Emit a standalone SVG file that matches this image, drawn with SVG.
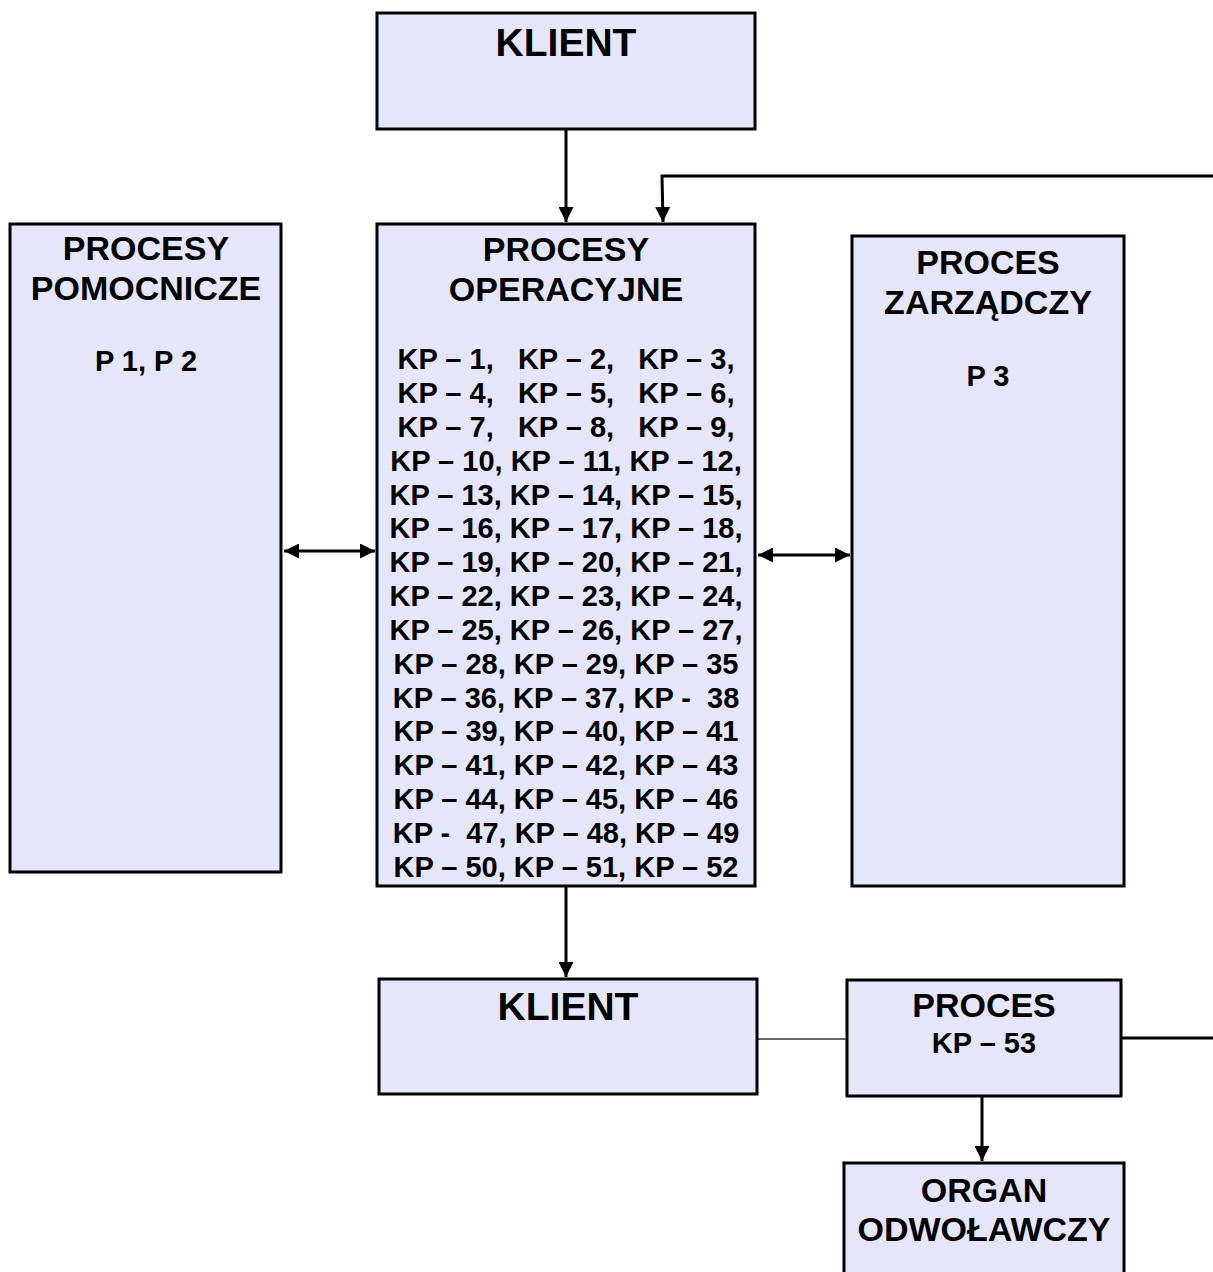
<svg xmlns="http://www.w3.org/2000/svg" width="1213" height="1272" viewBox="0 0 1213 1272">
<style>
.box{fill:#e6e6fa;stroke:#000;stroke-width:3}
.t{font-family:"Liberation Sans",Arial,sans-serif;font-weight:bold;fill:#000;text-anchor:middle}
.big{font-size:39px}
.h{font-size:34px}
.s{font-size:29px}
.kp{font-size:29px}
.c{stroke:#000;stroke-width:3;fill:none}
</style>
<defs>
<marker id="ah" viewBox="0 0 10 10" refX="10" refY="5" markerWidth="5" markerHeight="5" orient="auto-start-reverse" markerUnits="strokeWidth">
<path d="M0,0 L10,5 L0,10 z" fill="#000"/>
</marker>
</defs>
<rect width="1213" height="1272" fill="#fff"/>
<g id="connectors">
<line class="c" x1="566" y1="130" x2="566" y2="222" marker-end="url(#ah)"/>
<polyline class="c" points="1213,176 662,176 663,222" marker-end="url(#ah)"/>
<line class="c" x1="284" y1="551" x2="375" y2="551" marker-start="url(#ah)" marker-end="url(#ah)"/>
<line class="c" x1="758" y1="555" x2="850" y2="555" marker-start="url(#ah)" marker-end="url(#ah)"/>
<line class="c" x1="566" y1="887" x2="566" y2="977" marker-end="url(#ah)"/>
<line x1="757" y1="1039" x2="852" y2="1039" stroke="#333" stroke-width="1.3"/>
<line class="c" x1="1121" y1="1038" x2="1213" y2="1038"/>
<line class="c" x1="982" y1="1097" x2="982" y2="1161" marker-end="url(#ah)"/>
</g>
<g id="klient-top">
<rect class="box" x="377" y="13" width="378" height="116"/>
<text class="t big" x="566" y="56">KLIENT</text>
</g>
<g id="procesy-pomocnicze">
<rect class="box" x="10" y="224" width="271" height="648"/>
<text class="t h" x="146" y="260">PROCESY</text>
<text class="t h" x="146" y="300">POMOCNICZE</text>
<text class="t s" x="146" y="371">P 1, P 2</text>
</g>
<g id="procesy-operacyjne">
<rect class="box" x="377" y="224" width="378" height="662"/>
<text class="t h" x="566" y="261">PROCESY</text>
<text class="t h" x="566" y="301">OPERACYJNE</text>
<g class="t kp">
<text x="566" y="369">KP – 1,&#160;&#160; KP – 2,&#160;&#160; KP – 3,</text>
<text x="566" y="403">KP – 4,&#160;&#160; KP – 5,&#160;&#160; KP – 6,</text>
<text x="566" y="437">KP – 7,&#160;&#160; KP – 8,&#160;&#160; KP – 9,</text>
<text x="566" y="471">KP – 10, KP – 11, KP – 12,</text>
<text x="566" y="505">KP – 13, KP – 14, KP – 15,</text>
<text x="566" y="538">KP – 16, KP – 17, KP – 18,</text>
<text x="566" y="572">KP – 19, KP – 20, KP – 21,</text>
<text x="566" y="606">KP – 22, KP – 23, KP – 24,</text>
<text x="566" y="640">KP – 25, KP – 26, KP – 27,</text>
<text x="566" y="674">KP – 28, KP – 29, KP – 35</text>
<text x="566" y="708">KP – 36, KP – 37, KP -&#160; 38</text>
<text x="566" y="741">KP – 39, KP – 40, KP – 41</text>
<text x="566" y="775">KP – 41, KP – 42, KP – 43</text>
<text x="566" y="809">KP – 44, KP – 45, KP – 46</text>
<text x="566" y="843">KP -&#160; 47, KP – 48, KP – 49</text>
<text x="566" y="877">KP – 50, KP – 51, KP – 52</text>
</g>
</g>
<g id="proces-zarzadczy">
<rect class="box" x="852" y="236" width="272" height="650"/>
<text class="t h" x="988" y="274">PROCES</text>
<text class="t h" x="988" y="314">ZARZĄDCZY</text>
<text class="t s" x="988" y="386">P 3</text>
</g>
<g id="klient-bottom">
<rect class="box" x="379" y="979" width="378" height="115"/>
<text class="t big" x="568" y="1020">KLIENT</text>
</g>
<g id="proces-kp53">
<rect class="box" x="847" y="980" width="274" height="116"/>
<text class="t h" x="984" y="1017">PROCES</text>
<text class="t s" x="984" y="1053">KP – 53</text>
</g>
<g id="organ-odwolawczy">
<rect class="box" x="844" y="1163" width="280" height="120"/>
<text class="t h" x="984" y="1202">ORGAN</text>
<text class="t h" x="984" y="1241">ODWOŁAWCZY</text>
</g>
</svg>
